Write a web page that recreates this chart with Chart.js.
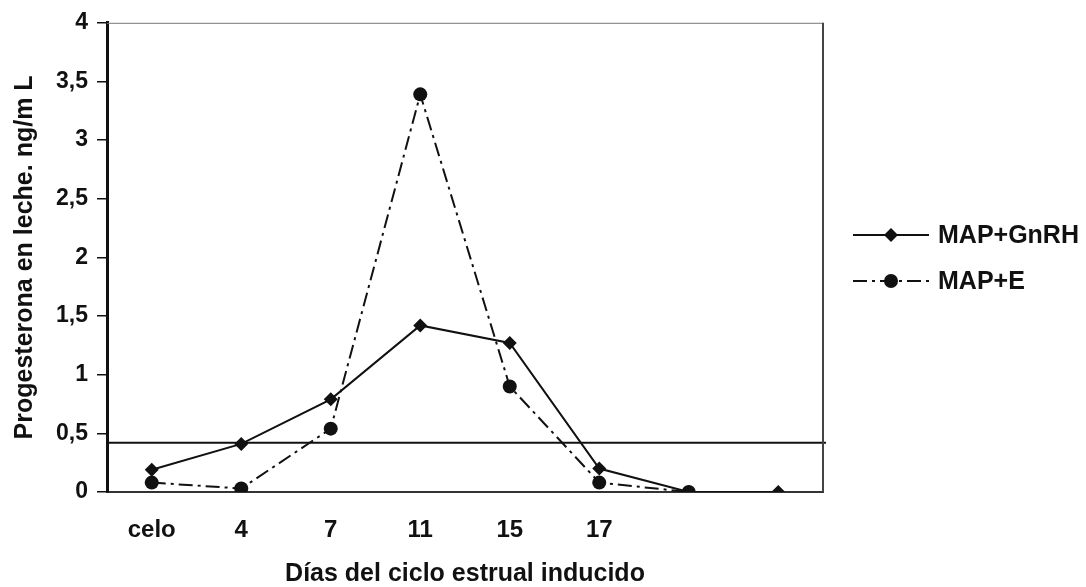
<!DOCTYPE html>
<html>
<head>
<meta charset="utf-8">
<script src="https://cdn.jsdelivr.net/npm/chart.js@4.4.0/dist/chart.umd.min.js"></script>
<style>
  html, body { margin: 0; padding: 0; background: #fff; }
  #wrap { width: 1086px; height: 587px; }
</style>
</head>
<body>
<div id="wrap"><canvas id="grafico" width="1086" height="587"></canvas></div>
<script>
// Datos
const dias = ['celo', '4', '7', '11', '15', '17', '', ''];
const mapGnrh = [0.19, 0.41, 0.79, 1.42, 1.27, 0.20, 0, 0];
const mapE = [0.08, 0.03, 0.54, 3.39, 0.90, 0.08, 0, null];
const etiquetasY = ['0', '0,5', '1', '1,5', '2', '2,5', '3', '3,5', '4'];
const umbral = 0.42;

const fuente = '"Liberation Sans", Arial, sans-serif';
const tinta = '#111';

// Línea horizontal del umbral y marco del área
const pluginMarco = {
    id: 'marco',
    beforeDatasetsDraw(chart) {
        const { ctx, chartArea, scales } = chart;
        const y = scales.y.getPixelForValue(umbral);
        ctx.save();
        ctx.strokeStyle = tinta;
        ctx.lineWidth = 2;
        ctx.beginPath();
        ctx.moveTo(chartArea.left, y);
        ctx.lineTo(chartArea.right + 3, y);
        ctx.stroke();
        // borde superior
        ctx.strokeStyle = '#777';
        ctx.lineWidth = 1;
        ctx.beginPath();
        ctx.moveTo(chartArea.left, chartArea.top + 0.5);
        ctx.lineTo(chartArea.right, chartArea.top + 0.5);
        ctx.stroke();
        // borde derecho
        ctx.strokeStyle = '#444';
        ctx.lineWidth = 2;
        ctx.beginPath();
        ctx.moveTo(chartArea.right, chartArea.top);
        ctx.lineTo(chartArea.right, chartArea.bottom);
        ctx.stroke();
        ctx.restore();
    }
};

// Leyenda a la derecha: línea + marcador + texto
const pluginLeyenda = {
    id: 'leyendaDerecha',
    afterDraw(chart) {
        const { ctx, chartArea } = chart;
        const x0 = chartArea.right + 30;
        const largo = 76;
        const filas = [235, 281];
        chart.data.datasets.forEach((ds, i) => {
            const y = filas[i];
            ctx.save();
            ctx.strokeStyle = ds.borderColor;
            ctx.lineWidth = ds.borderWidth;
            ctx.setLineDash(ds.borderDash || []);
            ctx.beginPath();
            ctx.moveTo(x0, y);
            ctx.lineTo(x0 + largo, y);
            ctx.stroke();
            ctx.setLineDash([]);
            ctx.fillStyle = ds.pointBackgroundColor;
            const cx = x0 + largo / 2;
            ctx.beginPath();
            if (ds.pointStyle === 'rectRot') {
                const r = ds.pointRadius;
                ctx.moveTo(cx, y - r);
                ctx.lineTo(cx + r, y);
                ctx.lineTo(cx, y + r);
                ctx.lineTo(cx - r, y);
                ctx.closePath();
            } else {
                ctx.arc(cx, y, ds.pointRadius, 0, Math.PI * 2);
            }
            ctx.fill();
            ctx.fillStyle = tinta;
            ctx.font = 'bold 25px ' + fuente;
            ctx.textBaseline = 'middle';
            ctx.fillText(ds.label, x0 + largo + 9, y + 1);
            ctx.restore();
        });
    }
};

const ctx = document.getElementById('grafico').getContext('2d');
new Chart(ctx, {
    type: 'line',
    data: {
        labels: dias,
        datasets: [
            {
                label: 'MAP+GnRH',
                data: mapGnrh,
                borderColor: tinta,
                borderWidth: 2,
                pointStyle: 'rectRot',
                pointRadius: 7,
                pointBackgroundColor: tinta,
                pointBorderColor: tinta,
                pointBorderWidth: 0,
                tension: 0
            },
            {
                label: 'MAP+E',
                data: mapE,
                borderColor: tinta,
                borderWidth: 2,
                borderDash: [14, 5, 3, 5],
                pointStyle: 'circle',
                pointRadius: 7,
                pointBackgroundColor: tinta,
                pointBorderColor: tinta,
                pointBorderWidth: 0,
                tension: 0
            }
        ]
    },
    options: {
        responsive: false,
        animation: false,
        layout: { padding: { top: 18, right: 263, left: 0, bottom: 0 } },
        plugins: {
            legend: { display: false },
            tooltip: { enabled: false }
        },
        scales: {
            x: {
                offset: true,
                grid: { display: false },
                border: { display: true, color: '#333', width: 2 },
                ticks: {
                    color: tinta,
                    padding: 16,
                    maxRotation: 0,
                    autoSkip: false,
                    font: { family: fuente, size: 24, weight: 'bold' }
                },
                title: {
                    display: true,
                    text: 'Días del ciclo estrual inducido',
                    color: tinta,
                    padding: { top: 0, bottom: -2 },
                    font: { family: fuente, size: 25, weight: 'bold' }
                },
                afterFit(scale) { scale.height = 95; }
            },
            y: {
                min: 0,
                max: 4,
                grid: {
                    drawOnChartArea: false,
                    drawTicks: true,
                    tickLength: 10,
                    color: tinta,
                    lineWidth: 1.5
                },
                border: { display: true, color: tinta, width: 3 },
                ticks: {
                    stepSize: 0.5,
                    padding: 9,
                    color: tinta,
                    font: { family: fuente, size: 23, weight: 'bold' },
                    callback: (v, i) => etiquetasY[i]
                },
                title: {
                    display: true,
                    text: 'Progesterona en leche. ng/m L',
                    color: tinta,
                    padding: { top: 10, bottom: 0 },
                    font: { family: fuente, size: 25, weight: 'bold' }
                },
                afterFit(scale) { scale.width = 107; }
            }
        }
    },
    plugins: [pluginMarco, pluginLeyenda]
});
</script>
</body>
</html>
